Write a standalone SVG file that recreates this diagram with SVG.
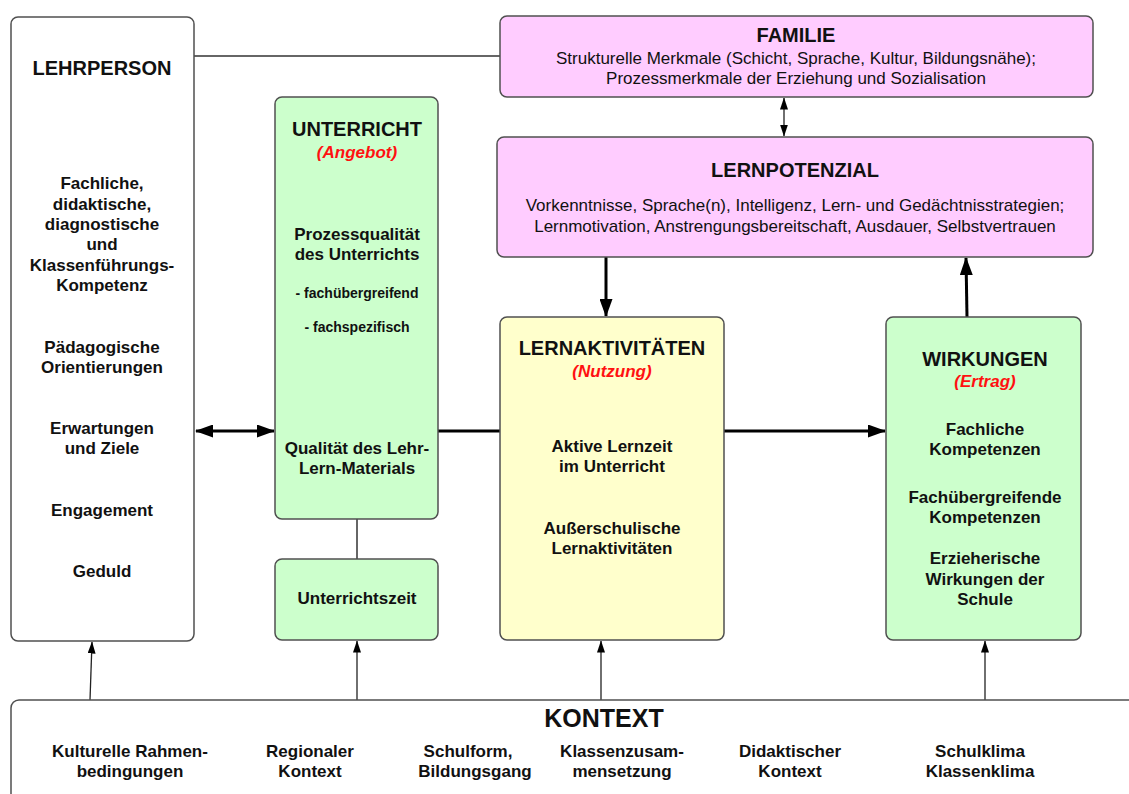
<svg xmlns="http://www.w3.org/2000/svg" width="1129" height="794" viewBox="0 0 1129 794">
  <style>
    .box { stroke: #505050; stroke-width: 1.5; }
    .white { fill: #ffffff; }
    .green { fill: #ccffcc; }
    .pink { fill: #ffccff; }
    .yellow { fill: #ffffcc; }
    text { font-family: "Liberation Sans", Arial, sans-serif; fill: #111; text-anchor: middle; }
    .title { font-size: 20px; font-weight: bold; }
    .big { font-size: 25px; font-weight: bold; }
    .b { font-size: 17px; font-weight: bold; }
    .s { font-size: 14px; font-weight: bold; }
    .r { font-size: 17px; }
    .red { font-size: 17px; font-weight: bold; font-style: italic; fill: #ff1111; }
    .thick { stroke: #000; stroke-width: 3; fill: none; }
    .thin { stroke: #222; stroke-width: 1.3; fill: none; }
    .plain { stroke: #333; stroke-width: 1.5; fill: none; }
  </style>
  <defs>
    <marker id="headBig" viewBox="0 0 18 13" refX="17" refY="6.5" markerWidth="18" markerHeight="13" markerUnits="userSpaceOnUse" orient="auto-start-reverse">
      <path d="M0,0 L18,6.5 L0,13 z" fill="#000"/>
    </marker>
    <marker id="headSmall" viewBox="0 0 12 8" refX="11.5" refY="4" markerWidth="12" markerHeight="8" markerUnits="userSpaceOnUse" orient="auto-start-reverse">
      <path d="M0,0 L12,4 L0,8 z" fill="#000"/>
    </marker>
  </defs>

  <!-- connectors -->
  <g id="connectors">
    <line class="plain" x1="194" y1="56" x2="500" y2="56"/>
    <line class="plain" x1="357" y1="519" x2="357" y2="559"/>
    <line class="thin" x1="784" y1="98" x2="784" y2="136" marker-start="url(#headSmall)" marker-end="url(#headSmall)"/>
    <line class="thick" x1="606" y1="257" x2="606" y2="316" marker-end="url(#headBig)"/>
    <line class="thick" x1="967" y1="317" x2="966" y2="258" marker-end="url(#headBig)"/>
    <line class="thick" x1="196" y1="431" x2="274" y2="431" marker-start="url(#headBig)" marker-end="url(#headBig)"/>
    <line class="thick" x1="438" y1="431" x2="500" y2="431"/>
    <line class="thick" x1="724" y1="431" x2="885" y2="431" marker-end="url(#headBig)"/>
    <line class="thin" x1="90" y1="700" x2="92" y2="642" marker-end="url(#headSmall)"/>
    <line class="thin" x1="357" y1="700" x2="357" y2="641" marker-end="url(#headSmall)"/>
    <line class="thin" x1="601" y1="700" x2="601" y2="641" marker-end="url(#headSmall)"/>
    <line class="thin" x1="985" y1="700" x2="985" y2="641" marker-end="url(#headSmall)"/>
  </g>

  <g id="lehrperson">
    <rect class="box white" x="11" y="17" width="183" height="624" rx="7"/>
    <text class="title" x="102" y="75">LEHRPERSON</text>
    <text class="b" x="102" y="189">Fachliche,</text>
    <text class="b" x="102" y="210">didaktische,</text>
    <text class="b" x="102" y="230">diagnostische</text>
    <text class="b" x="102" y="250">und</text>
    <text class="b" x="102" y="271">Klassenführungs-</text>
    <text class="b" x="102" y="291">Kompetenz</text>
    <text class="b" x="102" y="353">Pädagogische</text>
    <text class="b" x="102" y="373">Orientierungen</text>
    <text class="b" x="102" y="434">Erwartungen</text>
    <text class="b" x="102" y="454">und Ziele</text>
    <text class="b" x="102" y="516">Engagement</text>
    <text class="b" x="102" y="577">Geduld</text>
  </g>

  <g id="unterricht">
    <rect class="box green" x="275" y="97" width="163" height="422" rx="7"/>
    <text class="title" x="357" y="136">UNTERRICHT</text>
    <text class="red" x="357" y="158">(Angebot)</text>
    <text class="b" x="357" y="240">Prozessqualität</text>
    <text class="b" x="357" y="260">des Unterrichts</text>
    <text class="s" x="357" y="298">- fachübergreifend</text>
    <text class="s" x="357" y="332">- fachspezifisch</text>
    <text class="b" x="357" y="454">Qualität des Lehr-</text>
    <text class="b" x="357" y="474">Lern-Materials</text>
  </g>

  <g id="unterrichtszeit">
    <rect class="box green" x="275" y="559" width="163" height="81" rx="7"/>
    <text class="b" x="357" y="604">Unterrichtszeit</text>
  </g>

  <g id="familie">
    <rect class="box pink" x="500" y="16" width="593" height="81" rx="7"/>
    <text class="title" x="796" y="42">FAMILIE</text>
    <text class="r" x="796" y="64">Strukturelle Merkmale (Schicht, Sprache, Kultur, Bildungsnähe);</text>
    <text class="r" x="796" y="84">Prozessmerkmale der Erziehung und Sozialisation</text>
  </g>

  <g id="lernpotenzial">
    <rect class="box pink" x="497" y="137" width="596" height="120" rx="7"/>
    <text class="title" x="795" y="177">LERNPOTENZIAL</text>
    <text class="r" x="795" y="211">Vorkenntnisse, Sprache(n), Intelligenz, Lern- und Gedächtnisstrategien;</text>
    <text class="r" x="795" y="232">Lernmotivation, Anstrengungsbereitschaft, Ausdauer, Selbstvertrauen</text>
  </g>

  <g id="lernaktivitaeten">
    <rect class="box yellow" x="500" y="317" width="224" height="323" rx="7"/>
    <text class="title" x="612" y="355">LERNAKTIVITÄTEN</text>
    <text class="red" x="612" y="377">(Nutzung)</text>
    <text class="b" x="612" y="452">Aktive Lernzeit</text>
    <text class="b" x="612" y="472">im Unterricht</text>
    <text class="b" x="612" y="534">Außerschulische</text>
    <text class="b" x="612" y="554">Lernaktivitäten</text>
  </g>

  <g id="wirkungen">
    <rect class="box green" x="886" y="317" width="195" height="323" rx="7"/>
    <text class="title" x="985" y="366">WIRKUNGEN</text>
    <text class="red" x="985" y="387">(Ertrag)</text>
    <text class="b" x="985" y="435">Fachliche</text>
    <text class="b" x="985" y="455">Kompetenzen</text>
    <text class="b" x="985" y="503">Fachübergreifende</text>
    <text class="b" x="985" y="523">Kompetenzen</text>
    <text class="b" x="985" y="564">Erzieherische</text>
    <text class="b" x="985" y="585">Wirkungen der</text>
    <text class="b" x="985" y="605">Schule</text>
  </g>

  <g id="kontext">
    <rect class="box white" x="11" y="700" width="1140" height="130" rx="8"/>
    <text class="big" x="604" y="727">KONTEXT</text>
    <text class="b" x="130" y="757">Kulturelle Rahmen-</text>
    <text class="b" x="130" y="777">bedingungen</text>
    <text class="b" x="310" y="757">Regionaler</text>
    <text class="b" x="310" y="777">Kontext</text>
    <text class="b" x="468" y="757">Schulform,</text>
    <text class="b" x="475" y="777">Bildungsgang</text>
    <text class="b" x="622" y="757">Klassenzusam-</text>
    <text class="b" x="622" y="777">mensetzung</text>
    <text class="b" x="790" y="757">Didaktischer</text>
    <text class="b" x="790" y="777">Kontext</text>
    <text class="b" x="980" y="757">Schulklima</text>
    <text class="b" x="980" y="777">Klassenklima</text>
  </g>
</svg>
